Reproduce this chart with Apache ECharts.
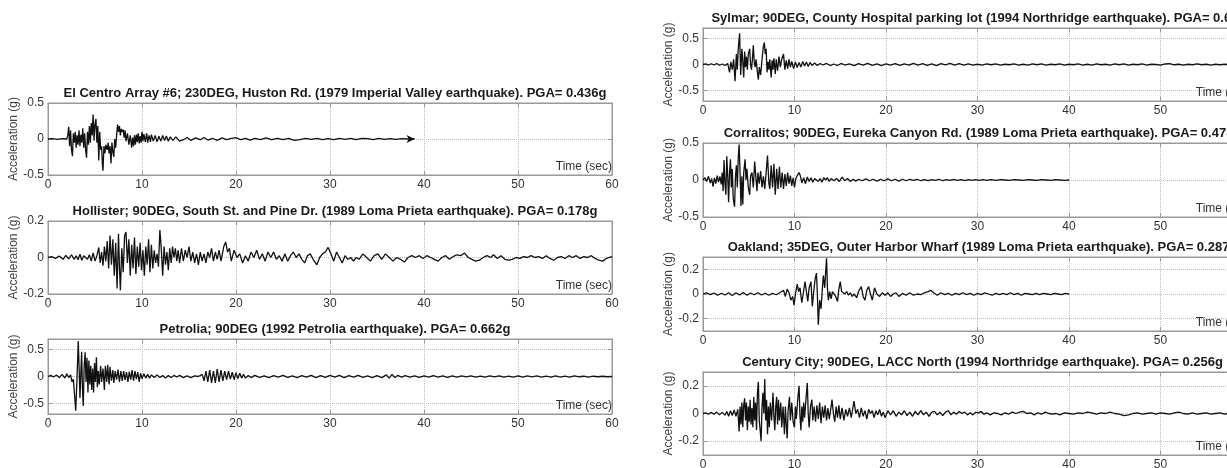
<!DOCTYPE html>
<html>
<head>
<meta charset="utf-8">
<script src="https://cdn.jsdelivr.net/npm/echarts@6/dist/echarts.min.js"></script>
<style>html,body{margin:0;padding:0;background:#fff}#c{width:1227px;height:468px}</style>
</head>
<body>
<div id="c"></div>
<script>
// ---------------- data (time in s, acceleration in g) ----------------
const titles = [
  'El Centro Array #6; 230DEG, Huston Rd. (1979 Imperial Valley earthquake). PGA= 0.436g',
  'Hollister; 90DEG, South St. and Pine Dr. (1989 Loma Prieta earthquake). PGA= 0.178g',
  'Petrolia; 90DEG (1992 Petrolia earthquake). PGA= 0.662g',
  'Sylmar; 90DEG, County Hospital parking lot (1994 Northridge earthquake). PGA= 0.604g',
  'Corralitos; 90DEG, Eureka Canyon Rd. (1989 Loma Prieta earthquake). PGA= 0.478g',
  'Oakland; 35DEG, Outer Harbor Wharf (1989 Loma Prieta earthquake). PGA= 0.287g',
  'Century City; 90DEG, LACC North (1994 Northridge earthquake). PGA= 0.256g'
];
const xTicks = [0, 10, 20, 30, 40, 50, 60];
const yTicksA = [-0.5, 0, 0.5];
const yTicksB = [-0.2, 0, 0.2];
const xName = 'Time (sec)';
const yName = 'Acceleration (g)';

const elCentro = [[0,0],[0.5,0.005],[1,-0.005],[1.5,0.005],[2,0],[2.1,0.05],[2.2,0.17],[2.3,-0.1],[2.4,0.12],[2.5,-0.15],[2.6,-0.24],[2.7,0.08],[2.8,-0.05],[2.9,0.1],[3.0,-0.12],[3.1,0.05],[3.2,-0.08],[3.3,0.12],[3.4,-0.1],[3.5,0.06],[3.6,-0.05],[3.7,0.15],[3.8,-0.12],[3.9,0.08],[4.0,-0.15],[4.1,-0.26],[4.2,0.1],[4.3,-0.08],[4.4,0.18],[4.5,-0.05],[4.6,0.22],[4.7,0.05],[4.8,0.34],[4.9,-0.02],[5.0,0.2],[5.1,0.28],[5.2,-0.05],[5.3,0.18],[5.4,-0.3],[5.5,0.1],[5.6,-0.15],[5.7,-0.1],[5.8,-0.38],[5.85,-0.44],[5.95,-0.1],[6.05,-0.2],[6.15,-0.08],[6.3,-0.15],[6.4,-0.05],[6.5,-0.2],[6.6,-0.1],[6.7,-0.34],[6.8,-0.05],[6.9,-0.18],[7.0,-0.25],[7.1,0.0],[7.2,-0.12],[7.3,0.05],[7.4,0.2],[7.5,0.1],[7.6,0.18],[7.7,0.05],[7.8,0.14],[7.9,0.1],[8.0,0.13],[8.1,0.02],[8.2,0.12],[8.3,-0.03],[8.45,0.08],[8.6,-0.08],[8.75,0.05],[8.9,-0.12],[9.0,0.02],[9.1,-0.1],[9.2,0.05],[9.3,-0.08],[9.4,0.06],[9.5,-0.04],[9.6,0.08],[9.7,-0.06],[9.8,0.04],[9.9,-0.05],[10.0,0.1],[10.1,-0.03],[10.2,0.07],[10.35,-0.04],[10.5,0.08],[10.6,-0.05],[10.75,0.05],[10.9,-0.04],[11.0,0.06],[11.2,-0.03],[11.4,0.05],[11.6,-0.04],[11.8,0.04],[12.0,-0.03],[12.2,0.05],[12.4,-0.02],[12.6,0.04],[12.8,-0.03],[13.0,0.03],[13.3,-0.02],[13.6,0.03],[14.0,-0.03],[14.4,-0.01],[14.8,0.02],[15.2,-0.02],[15.7,0.015],[16.2,-0.01],[16.6,0.02],[17.0,-0.015],[17.5,0.01],[18.0,-0.02],[18.5,0.015],[19.0,-0.01],[19.5,0.01],[20.0,0.02],[20.5,-0.01],[21.0,0.01],[21.5,-0.015],[22.0,0.01],[22.6,-0.01],[23.2,0.015],[23.8,-0.01],[24.4,0.01],[25.0,-0.01],[25.6,0.01],[26.2,-0.02],[26.8,-0.01],[27.4,0.01],[28.0,-0.005],[28.6,0.01],[29.2,-0.01],[29.8,0.005],[30.4,-0.01],[31.0,0.01],[31.6,-0.005],[32.2,0.01],[32.8,-0.01],[33.4,0.01],[34.0,0.005],[34.6,-0.01],[35.2,0.01],[35.8,-0.005],[36.4,0.005],[37.0,-0.005],[37.6,0.005],[38.2,0],[39.0,0]];

const hollister = [[0,0],[0.4,0.005],[0.8,-0.005],[1.2,0.008],[1.6,-0.01],[1.9,0.012],[2.2,-0.008],[2.5,0.015],[2.8,-0.01],[3.0,0.01],[3.2,-0.012],[3.4,0.018],[3.6,-0.015],[3.8,0.01],[4.0,0.02],[4.2,-0.01],[4.4,0.015],[4.6,-0.02],[4.8,0.025],[5.0,-0.02],[5.2,0.01],[5.4,0.055],[5.55,-0.03],[5.7,0.03],[5.85,-0.045],[6.0,0.06],[6.15,-0.02],[6.3,0.09],[6.45,-0.06],[6.6,0.12],[6.75,-0.04],[6.9,0.1],[7.05,-0.1],[7.2,0.08],[7.35,-0.17],[7.5,0.13],[7.6,-0.05],[7.7,-0.18],[7.85,0.05],[8.0,-0.08],[8.15,0.12],[8.3,0.14],[8.45,-0.03],[8.6,0.1],[8.75,-0.1],[8.9,0.07],[9.05,-0.06],[9.2,0.11],[9.35,-0.09],[9.5,0.06],[9.65,-0.05],[9.8,0.08],[9.95,-0.07],[10.1,0.04],[10.25,-0.1],[10.4,0.06],[10.55,-0.04],[10.7,0.1],[10.85,-0.08],[11.0,0.07],[11.15,-0.06],[11.3,0.04],[11.45,-0.03],[11.6,0.02],[11.75,-0.05],[11.9,0.15],[12.05,0.05],[12.2,-0.1],[12.35,0.06],[12.5,-0.04],[12.65,0.03],[12.8,-0.07],[12.95,0.05],[13.1,-0.03],[13.25,0.06],[13.4,0.0],[13.55,0.05],[13.7,-0.02],[13.85,0.04],[14.0,-0.03],[14.2,0.05],[14.4,-0.02],[14.6,0.04],[14.8,0.0],[15.0,0.06],[15.2,-0.02],[15.4,0.03],[15.6,-0.03],[15.8,0.02],[16.0,-0.04],[16.2,0.03],[16.4,-0.02],[16.6,0.02],[16.8,-0.03],[17.0,0.03],[17.2,0.0],[17.4,0.05],[17.6,-0.02],[17.8,0.03],[18.0,-0.01],[18.2,0.04],[18.4,-0.02],[18.7,0.06],[18.9,0.085],[19.1,0.03],[19.3,0.05],[19.5,-0.02],[19.8,0.04],[20.1,0.0],[20.4,0.02],[20.7,-0.03],[21.0,0.01],[21.3,-0.02],[21.6,0.03],[21.9,0.0],[22.2,0.04],[22.5,-0.01],[22.8,0.02],[23.1,-0.02],[23.4,0.03],[23.7,0.0],[24.0,0.03],[24.3,-0.01],[24.6,0.01],[24.9,-0.02],[25.2,0.02],[25.5,-0.02],[25.8,0.01],[26.1,0.03],[26.4,0.0],[26.7,0.02],[27.0,-0.01],[27.3,-0.03],[27.6,0.01],[27.9,0.02],[28.2,-0.01],[28.6,-0.04],[28.9,0.0],[29.2,0.02],[29.5,0.03],[29.8,0.055],[30.1,0.02],[30.4,-0.02],[30.7,0.03],[31.0,0.0],[31.3,-0.03],[31.6,0.01],[31.9,-0.01],[32.2,0.0],[32.5,-0.02],[32.8,0.0],[33.1,-0.01],[33.5,0.02],[33.9,0.0],[34.3,-0.02],[34.7,0.01],[35.1,0.02],[35.5,-0.01],[35.9,0.02],[36.3,0.0],[36.7,-0.02],[37.1,0.0],[37.5,-0.01],[37.9,-0.025],[38.3,0.0],[38.7,0.01],[39.1,0.0],[39.5,0.01],[39.9,-0.005],[40.3,0.01],[40.7,0.0],[41.1,-0.01],[41.5,-0.02],[41.9,0.0],[42.3,0.01],[42.7,-0.01],[43.1,0.005],[43.5,0.015],[43.9,0.01],[44.3,0.025],[44.7,0.0],[45.1,-0.01],[45.5,-0.02],[45.9,-0.015],[46.3,0.0],[46.7,0.01],[47.1,0.0],[47.4,0.015],[47.8,-0.005],[48.2,0.01],[48.6,-0.01],[49.0,-0.015],[49.4,-0.01],[49.8,0.0],[50.2,-0.005],[50.6,0.005],[51.0,0.0],[51.4,0.01],[51.8,0.0],[52.2,0.005],[52.6,-0.005],[53.0,0.01],[53.4,-0.005],[53.8,-0.015],[54.2,0.0],[54.6,0.005],[55.0,-0.005],[55.4,0.01],[55.8,0.0],[56.2,0.01],[56.6,-0.005],[57.0,0.005],[57.4,0.0],[57.8,0.01],[58.2,-0.005],[58.6,-0.015],[59.0,-0.02],[59.4,-0.005],[60,0.005]];

const petrolia = [[0,0],[0.3,0.02],[0.6,-0.01],[0.9,0.03],[1.2,-0.02],[1.5,0.04],[1.8,-0.03],[2.0,0.05],[2.2,-0.02],[2.4,0.03],[2.55,-0.1],[2.7,-0.05],[2.85,-0.4],[2.95,-0.64],[3.05,-0.2],[3.15,0.3],[3.22,0.66],[3.32,0.1],[3.4,-0.4],[3.5,0.1],[3.58,0.46],[3.66,-0.2],[3.75,-0.55],[3.85,0.2],[3.95,0.45],[4.05,-0.1],[4.15,0.35],[4.25,-0.3],[4.35,0.3],[4.45,-0.15],[4.55,0.2],[4.65,-0.25],[4.75,0.15],[4.85,-0.3],[4.95,0.25],[5.05,-0.1],[5.15,0.36],[5.25,-0.2],[5.35,0.1],[5.45,-0.15],[5.6,0.2],[5.7,-0.1],[5.85,0.15],[6.0,-0.25],[6.1,0.2],[6.25,-0.1],[6.35,0.22],[6.5,-0.15],[6.6,0.18],[6.75,-0.08],[6.9,0.12],[7.0,-0.12],[7.15,0.1],[7.3,-0.06],[7.45,0.13],[7.6,-0.1],[7.75,0.1],[7.9,-0.08],[8.05,0.1],[8.2,-0.07],[8.35,0.08],[8.5,-0.1],[8.65,0.09],[8.8,-0.06],[8.95,0.12],[9.1,-0.08],[9.25,0.1],[9.4,-0.05],[9.55,0.08],[9.7,-0.1],[9.85,0.06],[10.0,-0.04],[10.2,0.05],[10.4,-0.03],[10.6,0.04],[10.8,-0.03],[11.0,0.03],[11.3,-0.02],[11.6,0.03],[11.9,-0.02],[12.2,0.02],[12.5,-0.03],[12.8,0.02],[13.1,-0.02],[13.4,0.02],[13.7,-0.01],[14.0,0.02],[14.4,-0.02],[14.8,0.01],[15.2,-0.02],[15.6,0.01],[16.0,0.0],[16.4,0.04],[16.6,-0.08],[16.8,0.1],[17.0,-0.1],[17.2,0.12],[17.4,-0.12],[17.6,0.1],[17.8,-0.12],[18.0,0.14],[18.2,-0.1],[18.4,0.12],[18.6,-0.08],[18.8,0.1],[19.0,-0.06],[19.2,0.1],[19.4,-0.05],[19.6,0.08],[19.8,-0.06],[20.0,0.07],[20.2,-0.04],[20.4,0.06],[20.6,-0.03],[20.8,0.04],[21.0,-0.03],[21.3,0.02],[21.6,-0.02],[22.0,0.02],[22.5,-0.015],[23.0,0.01],[23.5,-0.02],[24,0.015],[24.5,-0.01],[25,0.02],[25.5,-0.015],[26,0.01],[26.5,-0.02],[27,0.015],[27.5,-0.01],[28,0.02],[28.5,-0.02],[29,0.015],[29.5,-0.015],[30,0.02],[30.5,-0.01],[31,0.02],[31.5,-0.02],[32,0.015],[32.5,-0.01],[33,0.02],[33.5,-0.015],[34,0.01],[34.5,-0.02],[35,0.015],[35.5,-0.02],[36,0.03],[36.3,-0.03],[36.6,0.04],[36.9,-0.02],[37.2,0.02],[37.6,-0.01],[38,0.015],[38.5,-0.01],[39,0.01],[39.5,-0.015],[40,0.01],[40.5,-0.01],[41,0.015],[41.5,-0.01],[42,0.01],[42.5,-0.015],[43,0.01],[43.5,-0.01],[44,0.01],[44.5,-0.005],[45,0.01],[45.5,-0.01],[46,0.005],[46.5,-0.01],[47,0.01],[47.5,-0.005],[48,0.01],[48.5,-0.01],[49,0.005],[49.5,-0.01],[50,0.01],[50.5,-0.01],[51,0.01],[51.5,-0.005],[52,0.01],[52.5,-0.01],[53,0.005],[53.5,-0.01],[54,0.01],[54.5,-0.01],[55,0.005],[55.5,-0.01],[56,0.01],[56.5,-0.005],[57,0.005],[57.5,-0.01],[58,0.005],[58.5,-0.005],[59,0.005],[59.5,-0.005],[60,0]];

const sylmar = [[0,0],[0.3,0.01],[0.6,-0.01],[0.9,0.015],[1.2,-0.01],[1.5,0.02],[1.8,-0.015],[2.1,0.01],[2.4,-0.02],[2.7,0.02],[2.9,-0.15],[3.05,0.05],[3.2,-0.1],[3.35,0.1],[3.5,-0.32],[3.65,0.2],[3.75,-0.1],[3.85,0.3],[4.0,0.6],[4.12,-0.2],[4.25,0.3],[4.35,0.05],[4.45,-0.25],[4.55,0.25],[4.65,-0.05],[4.75,0.15],[4.85,-0.1],[4.95,0.2],[5.1,0.3],[5.2,0.0],[5.3,-0.1],[5.4,0.1],[5.5,0.37],[5.6,0.05],[5.7,-0.05],[5.8,0.1],[5.95,-0.15],[6.05,-0.29],[6.15,-0.05],[6.3,-0.2],[6.45,0.1],[6.6,0.35],[6.7,0.42],[6.8,0.2],[6.9,0.3],[7.0,-0.15],[7.1,0.05],[7.2,-0.1],[7.3,0.1],[7.45,-0.25],[7.55,0.08],[7.65,-0.1],[7.75,0.12],[7.9,-0.18],[8.0,0.1],[8.15,-0.12],[8.3,0.15],[8.45,-0.05],[8.6,0.1],[8.8,0.2],[8.95,-0.1],[9.1,0.08],[9.25,-0.08],[9.4,0.1],[9.55,-0.05],[9.7,0.06],[9.9,-0.08],[10.1,0.05],[10.3,-0.06],[10.5,0.04],[10.7,-0.05],[10.9,0.06],[11.1,-0.03],[11.3,0.05],[11.5,-0.04],[11.7,0.04],[11.9,-0.02],[12.2,0.03],[12.5,-0.02],[12.8,0.02],[13.1,-0.01],[13.5,0.02],[13.9,-0.02],[14.3,0.01],[14.7,-0.02],[15.1,0.02],[15.5,-0.01],[16,0.01],[16.5,-0.02],[17,0.015],[17.5,-0.01],[18,0.02],[18.5,-0.015],[19,0.01],[19.5,-0.02],[20,0.01],[20.5,-0.01],[21,0.015],[21.5,-0.015],[22,0.01],[22.5,-0.01],[23,0.02],[23.5,-0.01],[24,0.015],[24.5,-0.015],[25,0.01],[25.5,-0.02],[26,0.015],[26.5,-0.005],[27,0.02],[27.5,-0.01],[28,0.015],[28.5,-0.01],[29,0.01],[29.5,-0.01],[30,0.005],[30.5,-0.01],[31,0.01],[31.5,-0.005],[32,0.01],[32.5,-0.01],[33,0.005],[33.5,-0.005],[34,0.01],[34.5,-0.01],[35,0.005],[35.5,-0.01],[36,0.01],[36.5,-0.005],[37,0.01],[37.5,-0.01],[38,0.005],[38.5,-0.005],[39,0.01],[39.5,-0.01],[40,0.005],[40.5,-0.005],[41,0.01],[41.5,-0.01],[42,0.005],[42.5,-0.01],[43,0.01],[43.5,-0.005],[44,0.005],[44.5,-0.01],[45,0.01],[45.5,-0.005],[46,0.01],[46.5,-0.01],[47,0.005],[47.5,-0.005],[48,0.01],[48.5,-0.01],[49,0.005],[49.5,0.0],[50,-0.01],[50.5,0.01],[51,0.015],[51.5,-0.005],[52,0.005],[52.5,-0.01],[53,0.005],[53.5,-0.005],[54,0.01],[54.5,-0.005],[55,0.005],[55.5,-0.01],[56,0.005],[56.5,-0.005],[57,0.005],[57.5,-0.005],[58,0.005],[58.5,-0.005],[59,0.005],[60,0]];

const corralitos = [[0,0],[0.2,0.03],[0.4,-0.02],[0.6,0.05],[0.8,-0.04],[0.95,0.02],[1.1,-0.09],[1.25,0.03],[1.4,-0.05],[1.55,0.06],[1.7,-0.03],[1.85,0.05],[2.0,-0.06],[2.1,0.1],[2.2,-0.15],[2.3,0.27],[2.4,-0.05],[2.5,-0.2],[2.6,0.32],[2.7,0.05],[2.8,-0.3],[2.9,0.1],[3.0,0.28],[3.1,-0.1],[3.2,0.15],[3.3,-0.25],[3.45,-0.36],[3.55,0.05],[3.65,0.2],[3.75,-0.1],[3.85,0.3],[3.95,0.48],[4.05,0.1],[4.15,-0.35],[4.25,0.05],[4.35,-0.33],[4.45,0.1],[4.6,0.28],[4.7,0.0],[4.8,0.15],[4.95,-0.1],[5.1,-0.2],[5.2,0.05],[5.35,0.1],[5.5,-0.1],[5.65,0.25],[5.8,0.0],[5.9,-0.15],[6.0,0.1],[6.15,-0.05],[6.3,0.12],[6.45,-0.1],[6.6,0.05],[6.75,-0.12],[6.9,0.1],[7.05,0.33],[7.2,-0.05],[7.3,-0.12],[7.45,0.2],[7.6,-0.1],[7.75,0.22],[7.9,-0.2],[8.05,0.15],[8.2,-0.12],[8.35,0.18],[8.5,-0.1],[8.65,0.1],[8.8,-0.12],[8.95,0.08],[9.1,-0.08],[9.25,0.1],[9.4,-0.05],[9.55,0.06],[9.7,-0.08],[9.85,0.03],[10.0,-0.1],[10.15,0.02],[10.3,0.06],[10.5,0.1],[10.65,0.05],[10.8,-0.04],[11.0,0.03],[11.2,-0.05],[11.4,0.04],[11.6,-0.02],[11.8,0.03],[12.0,-0.03],[12.2,0.02],[12.4,0.03],[12.6,-0.02],[12.8,0.02],[13.0,-0.03],[13.2,0.03],[13.4,0.0],[13.6,0.03],[13.8,-0.02],[14.0,0.02],[14.3,-0.01],[14.6,0.02],[14.9,-0.02],[15.2,0.04],[15.5,-0.01],[15.8,0.02],[16.1,-0.02],[16.4,0.01],[16.7,-0.015],[17.0,0.01],[17.4,-0.01],[17.8,0.015],[18.2,-0.01],[18.6,0.01],[19.0,-0.015],[19.4,0.01],[19.8,-0.01],[20.2,0.015],[20.6,-0.01],[21.0,0.01],[21.4,-0.015],[21.8,0.01],[22.2,-0.01],[22.6,0.01],[23.0,-0.005],[23.4,0.01],[23.8,-0.01],[24.2,0.005],[24.6,-0.01],[25.0,0.005],[25.4,-0.005],[25.8,0.01],[26.2,-0.01],[26.6,0.005],[27.0,-0.005],[27.4,0.01],[27.8,-0.005],[28.2,0.005],[28.6,-0.01],[29.0,0.005],[29.4,-0.005],[29.8,0.005],[30.2,-0.005],[30.6,0.005],[31.0,-0.005],[31.5,0.005],[32.0,-0.005],[32.5,0.005],[33.0,0],[33.5,-0.005],[34.0,0.005],[34.5,0],[35.0,-0.005],[35.5,0.005],[36.0,0],[36.5,-0.005],[37.0,0.005],[37.5,0],[38.0,-0.005],[38.5,0.005],[39.0,0],[39.5,-0.005],[40.0,0]];

const oakland = [[0,0],[0.4,0.01],[0.8,-0.005],[1.2,0.008],[1.6,-0.01],[2.0,0.006],[2.4,-0.008],[2.8,0.01],[3.2,-0.012],[3.6,0.01],[4.0,-0.008],[4.4,0.012],[4.8,-0.01],[5.2,0.008],[5.6,-0.006],[6.0,0.01],[6.4,-0.008],[6.8,0.006],[7.2,-0.01],[7.6,0.005],[8.0,-0.006],[8.4,0.01],[8.8,0.03],[9.0,-0.02],[9.2,0.04],[9.4,0.01],[9.6,-0.05],[9.8,-0.02],[9.95,-0.09],[10.1,0.0],[10.3,0.08],[10.45,0.02],[10.6,0.05],[10.8,-0.07],[10.95,0.0],[11.15,0.1],[11.3,0.02],[11.45,-0.06],[11.6,0.05],[11.8,0.1],[11.95,-0.1],[12.1,0.02],[12.25,0.12],[12.4,0.17],[12.5,0.0],[12.6,-0.25],[12.75,-0.05],[12.9,-0.12],[13.05,0.05],[13.15,0.15],[13.3,0.05],[13.5,0.29],[13.6,0.05],[13.7,-0.05],[13.85,0.02],[14.0,-0.04],[14.15,0.02],[14.3,0.03],[14.5,-0.02],[14.7,-0.06],[14.85,0.04],[15.0,0.1],[15.15,0.02],[15.3,0.03],[15.5,0.0],[15.7,0.02],[15.9,-0.01],[16.1,0.01],[16.3,-0.02],[16.5,0.0],[16.8,-0.03],[17.0,0.02],[17.3,0.06],[17.5,-0.02],[17.7,-0.05],[17.9,0.03],[18.1,0.06],[18.3,0.0],[18.5,-0.05],[18.75,0.05],[19.0,0.0],[19.3,-0.02],[19.6,0.01],[19.9,-0.01],[20.2,0.01],[20.5,-0.02],[20.8,0.0],[21.1,0.01],[21.4,-0.02],[21.8,0.005],[22.2,-0.01],[22.6,0.01],[23.0,-0.01],[23.4,0.0],[23.8,-0.005],[24.2,0.01],[24.6,0.02],[24.9,0.03],[25.2,0.01],[25.6,-0.01],[26.0,0.01],[26.4,-0.005],[26.8,0.005],[27.2,-0.01],[27.6,0.005],[28.0,-0.005],[28.4,0.01],[28.8,-0.005],[29.2,0.005],[29.6,-0.01],[30.0,0.005],[30.4,-0.005],[30.8,0.01],[31.2,0.0],[31.6,-0.01],[32.0,0.005],[32.4,-0.005],[32.8,0.005],[33.2,-0.005],[33.6,0.01],[34.0,-0.005],[34.4,0.005],[34.8,-0.01],[35.2,0.005],[35.6,0.0],[36.0,-0.005],[36.4,0.005],[36.8,-0.005],[37.2,0.005],[37.6,0.0],[38.0,-0.005],[38.4,0.005],[38.8,0.0],[39.2,-0.005],[39.6,0.005],[40.0,0.0]];

const centuryCity = [[0,0],[0.3,0.005],[0.6,-0.005],[0.9,0.008],[1.2,-0.005],[1.5,0.01],[1.8,-0.01],[2.1,0.008],[2.4,-0.012],[2.6,0.015],[2.8,-0.02],[3.0,0.02],[3.2,-0.015],[3.4,0.025],[3.6,-0.02],[3.8,0.03],[3.95,-0.13],[4.05,0.05],[4.15,-0.08],[4.25,0.08],[4.35,-0.1],[4.45,0.06],[4.55,0.11],[4.65,-0.05],[4.75,0.08],[4.85,-0.12],[4.95,0.05],[5.05,-0.06],[5.15,0.1],[5.25,-0.08],[5.35,0.04],[5.45,-0.1],[5.55,0.12],[5.65,-0.05],[5.75,0.08],[5.85,-0.12],[5.95,0.15],[6.05,0.23],[6.15,-0.05],[6.25,-0.12],[6.35,-0.2],[6.45,0.05],[6.55,0.15],[6.65,0.0],[6.75,0.25],[6.85,-0.05],[6.95,0.1],[7.05,-0.15],[7.15,0.05],[7.25,-0.1],[7.35,0.08],[7.5,-0.05],[7.65,0.15],[7.75,-0.02],[7.85,-0.12],[7.95,0.05],[8.05,0.12],[8.15,-0.08],[8.25,0.1],[8.35,-0.05],[8.5,0.08],[8.6,-0.1],[8.75,0.05],[8.9,-0.15],[9.0,0.05],[9.1,-0.08],[9.2,-0.18],[9.3,0.02],[9.45,0.12],[9.55,-0.05],[9.7,0.08],[9.85,-0.06],[10.0,-0.1],[10.1,0.05],[10.2,-0.04],[10.35,0.1],[10.5,0.2],[10.6,-0.02],[10.7,-0.12],[10.8,0.05],[10.9,-0.06],[11.0,0.08],[11.1,-0.03],[11.25,0.1],[11.4,0.22],[11.5,0.0],[11.6,-0.1],[11.75,0.05],[11.9,0.1],[12.0,-0.05],[12.15,0.05],[12.3,-0.06],[12.45,0.06],[12.6,-0.04],[12.75,0.08],[12.9,-0.07],[13.05,0.05],[13.2,-0.03],[13.35,0.06],[13.5,-0.05],[13.65,0.04],[13.8,-0.04],[14.0,0.05],[14.1,0.1],[14.25,0.0],[14.4,-0.06],[14.55,0.05],[14.7,-0.03],[14.85,0.06],[15.0,-0.04],[15.2,0.04],[15.4,-0.05],[15.6,0.03],[15.8,-0.02],[16.0,0.04],[16.2,-0.03],[16.5,0.09],[16.7,0.0],[16.9,0.03],[17.1,-0.03],[17.3,0.04],[17.5,-0.02],[17.7,0.02],[17.9,-0.04],[18.1,0.03],[18.3,0.0],[18.5,0.02],[18.7,-0.03],[18.9,0.02],[19.1,-0.01],[19.3,0.03],[19.5,-0.02],[19.7,0.01],[19.9,-0.03],[20.2,0.02],[20.5,-0.01],[20.8,0.02],[21.1,-0.02],[21.4,0.01],[21.7,-0.01],[22.0,0.02],[22.3,-0.015],[22.6,0.01],[22.9,-0.02],[23.2,0.015],[23.5,-0.01],[23.8,0.02],[24.1,-0.01],[24.4,0.01],[24.7,-0.02],[25.0,0.01],[25.3,0.015],[25.6,-0.01],[25.9,0.01],[26.2,-0.015],[26.5,0.01],[26.8,0.02],[27.1,-0.01],[27.4,0.01],[27.7,-0.005],[28.0,0.015],[28.3,0.0],[28.6,0.01],[28.9,-0.01],[29.2,0.005],[29.5,-0.01],[29.8,0.01],[30.1,0.005],[30.4,0.015],[30.7,-0.005],[31.0,0.005],[31.4,-0.01],[31.8,0.005],[32.2,0.0],[32.6,-0.01],[33.0,0.005],[33.4,-0.005],[33.8,0.01],[34.2,0.0],[34.6,0.01],[35.0,0.015],[35.4,0.0],[35.8,0.005],[36.2,-0.01],[36.6,0.005],[37.0,-0.005],[37.4,0.01],[37.8,0.0],[38.2,-0.005],[38.6,0.0],[39.0,-0.01],[39.5,0.005],[40.0,0.0],[40.5,-0.005],[41.0,0.005],[41.5,0.0],[42.0,0.01],[42.5,0.005],[43.0,-0.005],[43.5,0.005],[44.0,0.0],[44.5,0.01],[45.0,0.0],[45.5,-0.005],[46.0,-0.015],[46.5,-0.01],[47.0,0.0],[47.5,0.005],[48.0,-0.005],[48.5,0.0],[49.0,0.005],[49.5,-0.005],[50.0,0.005],[50.5,0.0],[51.0,-0.005],[51.5,0.005],[52.0,0.01],[52.5,0.0],[53.0,-0.005],[53.5,0.005],[54.0,-0.005],[54.5,0.0],[55.0,0.005],[55.5,-0.005],[56.0,0.0],[56.5,0.005],[57.0,-0.005],[57.5,0.005],[58.0,0.0],[58.5,0.005],[59.0,-0.005],[60.0,0.0]];

// ---------------- layout ----------------
const series_ = [elCentro, hollister, petrolia, sylmar, corralitos, oakland, centuryCity];
const layout = [
  {left: 48,  top: 103, width: 564, height: 72, lim: 0.5, ticks: yTicksA, gap: 28},
  {left: 48,  top: 221, width: 564, height: 73, lim: 0.2, ticks: yTicksB, gap: 28},
  {left: 48,  top: 339, width: 564, height: 75, lim: 0.7, ticks: yTicksA, gap: 28},
  {left: 703, top: 28,  width: 549, height: 73, lim: 0.7, ticks: yTicksA, gap: 25},
  {left: 703, top: 143, width: 549, height: 74, lim: 0.5, ticks: yTicksA, gap: 25},
  {left: 703, top: 257, width: 549, height: 74, lim: 0.3, ticks: yTicksB, gap: 25},
  {left: 703, top: 372, width: 549, height: 83, lim: 0.3, ticks: yTicksB, gap: 25}
];
const FONT = '"Liberation Sans", Arial, sans-serif';
const frame = '#999999';
const gridLine = {show: true, lineStyle: {type: 'dotted', color: '#bdbdbd', width: 1}};

const grid = [], xAxis = [], yAxis = [], series = [], title = [];
layout.forEach((L, i) => {
  grid.push({left: L.left, top: L.top, width: L.width, height: L.height, show: true,
    borderColor: frame, borderWidth: 1, backgroundColor: '#fff',
    containLabel: false, outerBoundsMode: 'none'});
  title.push({text: titles[i], left: L.left + L.width / 2, top: L.top - 21, textAlign: 'center',
    textStyle: {fontFamily: FONT, fontSize: 13, fontWeight: 'bold', color: '#1a1a1a'}});
  xAxis.push({type: 'value', gridIndex: i, min: 0, max: 60, interval: 10, position: 'bottom',
    axisLine: {show: true, onZero: false, lineStyle: {color: frame}},
    axisTick: {show: true, inside: true, length: 4, lineStyle: {color: frame}},
    axisLabel: {show: true, margin: 4, fontFamily: FONT, fontSize: 12, color: '#333',
      customValues: xTicks},
    splitLine: gridLine,
    name: xName, nameLocation: 'end', nameGap: 0,
    nameTextStyle: {fontFamily: FONT, fontSize: 12, color: '#333', align: 'right',
      verticalAlign: 'bottom', padding: [0, 0, 2, 0]}});
  yAxis.push({type: 'value', gridIndex: i, min: -L.lim, max: L.lim, position: 'left',
    axisLine: {show: true, onZero: false, lineStyle: {color: frame}},
    axisTick: {show: true, inside: true, length: 4, lineStyle: {color: frame}, customValues: L.ticks},
    axisLabel: {show: true, margin: 4, fontFamily: FONT, fontSize: 12, color: '#333', customValues: L.ticks},
    splitLine: gridLine,
    name: yName, nameLocation: 'middle', nameGap: L.gap,
    nameTextStyle: {fontFamily: FONT, fontSize: 12, color: '#444'}});
  const data = series_[i].map((p, k, arr) => (i === 0 && k === arr.length - 1)
    ? {value: p, symbol: 'arrow', symbolSize: [6, 8], symbolRotate: -90}
    : p);
  series.push({type: 'line', xAxisIndex: i, yAxisIndex: i, data: data,
    symbol: 'none', showSymbol: true, clip: false,
    lineStyle: {color: '#111', width: 1.3}, itemStyle: {color: '#111'}, z: 3});
});
layout.forEach((L, i) => {
  xAxis.push({type: 'value', gridIndex: i, min: 0, max: 60, interval: 10, position: 'top',
    axisLine: {show: true, onZero: false, lineStyle: {color: frame}},
    axisTick: {show: true, inside: true, length: 4, lineStyle: {color: frame}},
    axisLabel: {show: false}, splitLine: {show: false}});
  yAxis.push({type: 'value', gridIndex: i, min: -L.lim, max: L.lim, position: 'right',
    axisLine: {show: true, onZero: false, lineStyle: {color: frame}},
    axisTick: {show: true, inside: true, length: 4, lineStyle: {color: frame}, customValues: L.ticks},
    axisLabel: {show: false}, splitLine: {show: false}});
});

const chart = echarts.init(document.getElementById('c'), null, {renderer: 'canvas'});
chart.setOption({animation: false, backgroundColor: '#fff', title, grid, xAxis, yAxis, series});
</script>
</body>
</html>
